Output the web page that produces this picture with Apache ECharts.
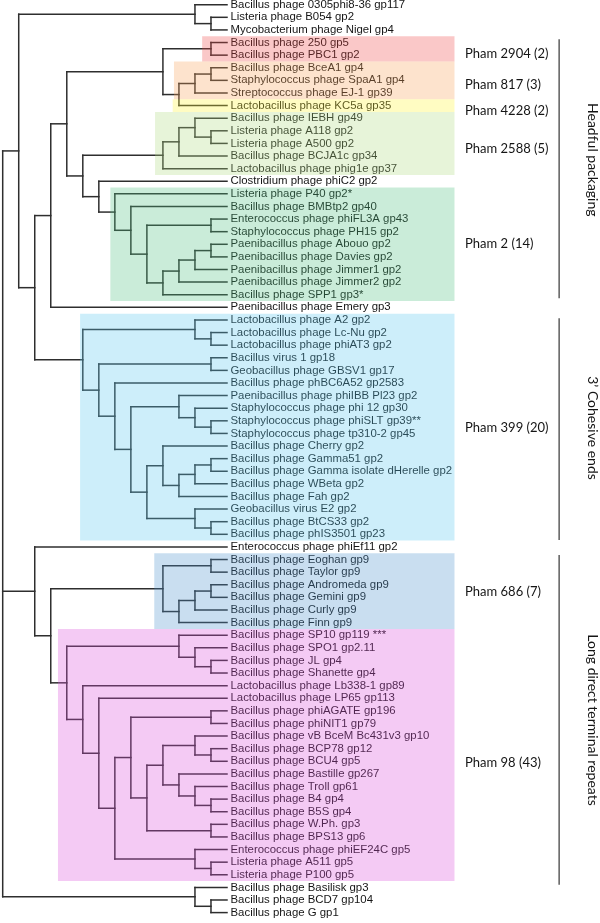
<!DOCTYPE html>
<html>
<head>
<meta charset="utf-8">
<style>html,body{margin:0;padding:0;background:#fff;}#c{width:600px;height:923px;}</style>
<script src="https://cdn.jsdelivr.net/npm/echarts@6/dist/echarts.min.js"></script>
</head>
<body>
<div id="c"></div>
<script>
// ---------- DATA ----------
const leafNames = [
  'Bacillus phage 0305phi8-36 gp117','Listeria phage B054 gp2','Mycobacterium phage Nigel gp4',
  'Bacillus phage 250 gp5','Bacillus phage PBC1 gp2','Bacillus phage BceA1 gp4',
  'Staphylococcus phage SpaA1 gp4','Streptococcus phage EJ-1 gp39','Lactobacillus phage KC5a gp35',
  'Bacillus phage IEBH gp49','Listeria phage A118 gp2','Listeria phage A500 gp2',
  'Bacillus phage BCJA1c gp34','Lactobacillus phage phig1e gp37','Clostridium phage phiC2 gp2',
  'Listeria phage P40 gp2*','Bacillus phage BMBtp2 gp40','Enterococcus phage phiFL3A gp43',
  'Staphylococcus phage PH15 gp2','Paenibacillus phage Abouo gp2','Paenibacillus phage Davies gp2',
  'Paenibacillus phage Jimmer1 gp2','Paenibacillus phage Jimmer2 gp2','Bacillus phage SPP1 gp3*',
  'Paenibacillus phage Emery gp3','Lactobacillus phage A2 gp2','Lactobacillus phage Lc-Nu gp2',
  'Lactobacillus phage phiAT3 gp2','Bacillus virus 1 gp18','Geobacillus phage GBSV1 gp17',
  'Bacillus phage phBC6A52 gp2583','Paenibacillus phage phiIBB Pl23 gp2','Staphylococcus phage phi 12 gp30',
  'Staphylococcus phage phiSLT gp39**','Staphylococcus phage tp310-2 gp45','Bacillus phage Cherry gp2',
  'Bacillus phage Gamma51 gp2','Bacillus phage Gamma isolate dHerelle gp2','Bacillus phage WBeta gp2',
  'Bacillus phage Fah gp2','Geobacillus virus E2 gp2','Bacillus phage BtCS33 gp2',
  'Bacillus phage phIS3501 gp23','Enterococcus phage phiEf11 gp2','Bacillus phage Eoghan gp9',
  'Bacillus phage Taylor gp9','Bacillus phage Andromeda gp9','Bacillus phage Gemini gp9',
  'Bacillus phage Curly gp9','Bacillus phage Finn gp9','Bacillus phage SP10 gp119 ***',
  'Bacillus phage SPO1 gp2.11','Bacillus phage JL gp4','Bacillus phage Shanette gp4',
  'Lactobacillus phage Lb338-1 gp89','Lactobacillus phage LP65 gp113','Bacillus phage phiAGATE gp196',
  'Bacillus phage phiNIT1 gp79','Bacillus phage vB BceM Bc431v3 gp10','Bacillus phage BCP78 gp12',
  'Bacillus phage BCU4 gp5','Bacillus phage Bastille gp267','Bacillus phage Troll gp61',
  'Bacillus phage B4 gp4','Bacillus phage B5S gp4','Bacillus phage W.Ph. gp3',
  'Bacillus phage BPS13 gp6','Enterococcus phage phiEF24C gp5','Listeria phage A511 gp5',
  'Listeria phage P100 gp5','Bacillus phage Basilisk gp3','Bacillus phage BCD7 gp104',
  'Bacillus phage G gp1'
];
// tree topology (leaf numbers, 1-based, nested clades)
const topClade = [1, [2, 3]];
const headfulClade = [[[4, 5], [[[6, 7], 8], 9]],
  [[[[10, [11, 12]], 13], 14], [15, [16, [17, [[18, 19], [[[[20, 21], 22], 23], 24]]]]]]];
const cohesiveClade = [[26, [27, 28]], [[29, 30], [31, [[32, [33, [34, 35]]], [[36, [[[37, 38], 39], 40]], [41, [42, 43]]]]]]];
const blueClade = [[45, 46], [[[47, 48], 49], 50]];
const pinkClade = [[51, [52, [53, 54]]], [55, [56, [[[57, 58], [[[59, [60, 61]], [62, [63, [64, 65]]]], [66, 67]]], [68, [69, 70]]]]]];
const outgroup = [71, [72, 73]];
const tree = [[topClade, [[headfulClade, 25], cohesiveClade]], [44, [blueClade, pinkClade]], outgroup];

const phamLabels = ['Pham 2904 (2)', 'Pham 817 (3)', 'Pham 4228 (2)', 'Pham 2588 (5)', 'Pham 2 (14)', 'Pham 399 (20)', 'Pham 686 (7)', 'Pham 98 (43)'];
const phamFirstLeaf = [4, 6, 9, 10, 16, 26, 45, 51];
const phamLastLeaf = [5, 8, 9, 14, 24, 43, 50, 70];

const packagingLabels = ['Headful packaging', '3\u2019 Cohesive ends', 'Long direct terminal repeats'];
const packagingFirstLeaf = [4, 26, 45];
const packagingLastLeaf = [24, 43, 70];

// ---------- STYLE / LAYOUT ----------
const phamStyle = [
  { color: '#fac8c8', left: 12.45, labelRow: 4.93 },
  { color: '#fde3cd', left: 10.69, labelRow: 7.37 },
  { color: '#fffcc2', left: 10.61, labelRow: 9.43 },
  { color: '#e7f4d9', left: 9.51, labelRow: 12.44 },
  { color: '#caecd9', left: 6.72, labelRow: 20.0 },
  { color: '#cdeefa', left: 4.83, labelRow: 34.54 },
  { color: '#c9def0', left: 9.46, labelRow: 47.55 },
  { color: '#f4caf4', left: 3.45, labelRow: 61.16 }
];
const boxRight = 28.2;       // x units
const phamLabelX = 28.86;
const bracketX = 34.73;
const packagingTextX = 36.8;
const packagingStyle = [
  { from: -0.26, to: 0.28, textRow: 13.3 },
  { from: -0.13, to: 0.45, textRow: 34.57 },
  { from: -0.36, to: 0.8, textRow: 57.73 }
];
const overlayAlpha = 0.3;
const lineColor = '#2e2e2e';
const textColor = '#151515';

// ---------- TREE LAYOUT ----------
function layout(n) {
  if (typeof n === 'number') return { y: n, h: 0 };
  const kids = n.map(layout);
  const h = 1 + Math.max(...kids.map(k => k.h));
  const y = (kids[0].y + kids[kids.length - 1].y) / 2;
  return { y, h, kids };
}
const rootInfo = layout(tree);
const H = rootInfo.h;
const segs = [];
(function emit(node) {
  if (!node.kids) return;
  const x = H - node.h;
  segs.push([x, node.kids[0].y, x, node.kids[node.kids.length - 1].y]);
  node.kids.forEach(k => { segs.push([x, k.y, H - k.h, k.y]); emit(k); });
})(rootInfo);

function overlay(hex, a) {
  const v = [1, 3, 5].map(i => parseInt(hex.substr(i, 2), 16));
  const c = v.map(t => Math.max(0, Math.min(255, Math.round(255 - (255 - t) / a))));
  return 'rgba(' + c.join(',') + ',' + a + ')';
}

const chart = echarts.init(document.getElementById('c'), null, { renderer: 'canvas' });
chart.setOption({
  animation: false,
  grid: { left: 2.7, right: 373, top: 4.7, bottom: 10.4 },
  xAxis: { type: 'value', min: 0, max: H, show: false },
  yAxis: { type: 'value', min: 1, max: leafNames.length, inverse: true, show: false },
  series: [
    {
      type: 'custom', z: 2, silent: true,
      data: segs,
      encode: { x: [0, 2], y: [1, 3] },
      renderItem: (params, api) => {
        const p1 = api.coord([api.value(0), api.value(1)]);
        const p2 = api.coord([api.value(2), api.value(3)]);
        return { type: 'line', shape: { x1: p1[0], y1: p1[1], x2: p2[0], y2: p2[1] },
          style: { stroke: lineColor, lineWidth: 1.5, lineCap: 'square' } };
      }
    },
    {
      type: 'custom', z: 3, silent: true,
      data: leafNames.map((n, i) => [H, i + 1]),
      encode: { x: 0, y: 1 },
      renderItem: (params, api) => {
        const p = api.coord([api.value(0), api.value(1)]);
        return { type: 'text', x: p[0] + 3.5, y: p[1],
          style: { text: leafNames[params.dataIndex], font: '11.4px "Liberation Sans", Arial, sans-serif',
            fill: textColor, align: 'left', verticalAlign: 'middle' } };
      }
    },
    {
      type: 'custom', z: 5, silent: true,
      data: phamLabels.map((n, i) => [phamStyle[i].left, phamFirstLeaf[i] - 0.5, boxRight, phamLastLeaf[i] + 0.5]),
      encode: { x: [0, 2], y: [1, 3] },
      renderItem: (params, api) => {
        const p1 = api.coord([api.value(0), api.value(1)]);
        const p2 = api.coord([api.value(2), api.value(3)]);
        return { type: 'rect', shape: { x: p1[0], y: p1[1], width: p2[0] - p1[0], height: p2[1] - p1[1] },
          style: { fill: overlay(phamStyle[params.dataIndex].color, overlayAlpha) } };
      }
    },
    {
      type: 'custom', z: 6, silent: true,
      data: phamLabels.map((n, i) => [phamLabelX, phamStyle[i].labelRow]),
      encode: { x: 0, y: 1 },
      renderItem: (params, api) => {
        const p = api.coord([api.value(0), api.value(1)]);
        return { type: 'text', x: p[0], y: p[1],
          style: { text: phamLabels[params.dataIndex], font: '13px Lato, "Open Sans", sans-serif',
            fill: textColor, align: 'left', verticalAlign: 'middle' } };
      }
    },
    {
      type: 'custom', z: 6, silent: true,
      data: packagingLabels.map((n, i) => [bracketX, packagingFirstLeaf[i] + packagingStyle[i].from, packagingLastLeaf[i] + packagingStyle[i].to, packagingStyle[i].textRow]),
      encode: { x: 0, y: [1, 2] },
      renderItem: (params, api) => {
        const p1 = api.coord([api.value(0), api.value(1)]);
        const p2 = api.coord([api.value(0), api.value(2)]);
        const pt = api.coord([packagingTextX, api.value(3)]);
        return { type: 'group', children: [
          { type: 'line', shape: { x1: p1[0], y1: p1[1], x2: p2[0], y2: p2[1] },
            style: { stroke: '#444', lineWidth: 1.3 } },
          { type: 'text', x: pt[0], y: pt[1], rotation: -Math.PI / 2,
            style: { text: packagingLabels[params.dataIndex], font: '14px Lato, "Open Sans", sans-serif',
              fill: textColor, align: 'center', verticalAlign: 'middle' } }
        ] };
      }
    }
  ]
});
</script>
</body>
</html>
